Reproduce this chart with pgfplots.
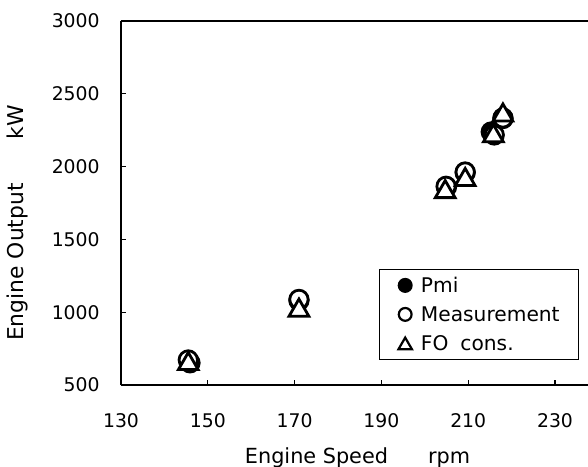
\documentclass[border=0pt]{standalone}
\usepackage{fontspec}
\setmainfont{DejaVu Sans}
\usepackage{pgfplots}
\pgfplotsset{compat=1.18}
\pgfplotsset{trilegend/.code={\pgfplotsset{legend image code/.code={\draw[##1, mark size=3.9pt, line width=1.1pt] plot coordinates {(0pt,-1pt)};}}}}
\begin{document}
\begin{tikzpicture}
\useasboundingbox (-60.5pt,-40.5pt) rectangle (233.5pt,192.5pt);
\begin{axis}[
  scale only axis, width=233.5pt, height=182pt,
  at={(0pt,0pt)}, anchor=south west,
  xmin=130, xmax=237.6, ymin=500, ymax=3000,
  xtick={130,150,...,230}, ytick={500,1000,...,3000},
  axis x line*=box, axis y line*=left,
  xtick pos=bottom, ytick pos=left,
  tick align=inside, major tick length=2.5pt,
  axis line style={line width=1pt},
  every tick/.style={black, line width=0.6pt},
  /pgf/number format/assume math mode=true,
  /pgf/number format/1000 sep={},
  tick label style={font=\fontsize{9.4}{11}\selectfont},
  xticklabel style={anchor=base, inner sep=0pt, yshift=-21pt},
  yticklabel style={anchor=east, inner sep=0pt, xshift=-10.5pt},
  xlabel={Engine Speed\hspace{20pt}rpm},
  ylabel={Engine Output\hspace{22pt}kW},
  xlabel style={at={(axis description cs:0.5064,-0.2143)}, anchor=base, inner sep=0pt, font=\fontsize{10.4}{12}\selectfont},
  ylabel style={at={(axis description cs:-0.2206,0.445)}, anchor=center, inner sep=0pt, font=\fontsize{10.9}{12}\selectfont},
  legend image code/.code={\draw[#1, mark size=3.2pt, line width=1.1pt] plot coordinates {(0pt,0pt)};},
  legend style={at={(axis description cs:0.981,0.0687)}, anchor=south east,
    draw=black, line width=0.5pt, font=\fontsize{10.1}{12}\selectfont,
    inner xsep=9.5pt, inner ysep=4.3pt, row sep=7pt, column sep=4.5pt,
    nodes={inner sep=0pt, text height=7.5pt, text depth=0pt}},
  legend cell align=left,
]
\addplot[only marks, mark=*, mark size=4.6pt, line width=1.4pt, draw=black, fill=black]
  coordinates {(145.9,652) (171.0,1080) (205.0,1860) (209.3,1958) (215.3,2238) (218.0,2330)};
\addlegendentry{Pmi}
\addplot[only marks, mark=*, mark size=4.6pt, line width=1.4pt, draw=black, fill=white]
  coordinates {(145.5,672) (171.0,1088) (204.9,1865) (209.3,1963) (216.0,2217) (218.0,2334)};
\addlegendentry{Measurement}
\addplot[only marks, mark=triangle*, mark size=5.7pt, line width=1.4pt, draw=black, fill=white, trilegend]
  coordinates {(145.5,645) (171.0,1012) (204.7,1826) (209.3,1909) (215.8,2210) (218.0,2352)};
\addlegendentry{FO\hspace{6pt}cons.}
\end{axis}
\end{tikzpicture}
\end{document}
